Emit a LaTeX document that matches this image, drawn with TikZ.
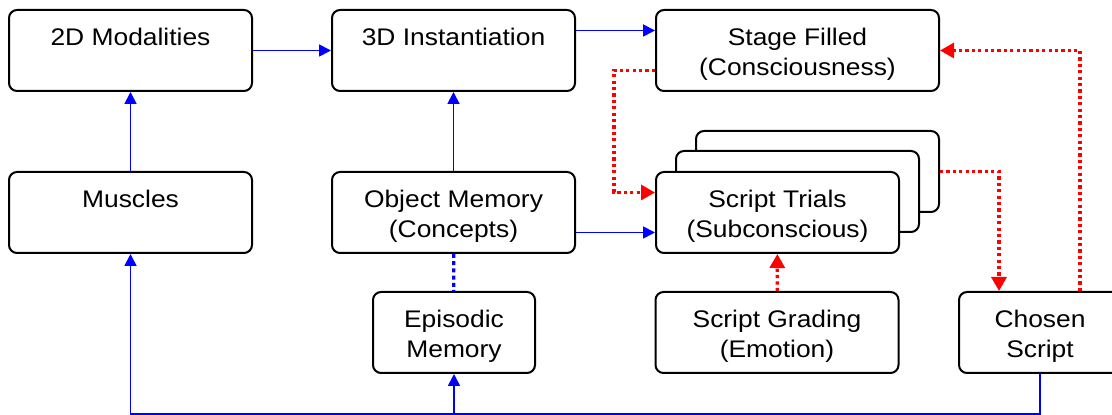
\documentclass[tikz,border=0pt]{standalone}
\usepackage{fontspec}
\setmainfont{Liberation Sans}[FakeStretch=1.1]
\usetikzlibrary{arrows.meta,positioning}

\begin{document}
\begin{tikzpicture}[x=0.5pt, y=-0.5pt,
  box/.style={draw, line width=1pt, rounded corners=4pt, fill=white, align=center,
    minimum width=121.5pt, minimum height=40.5pt, inner sep=2pt,
    text height=27.8pt, text depth=2.6pt, font=\fontsize{12}{15}\selectfont},
  narrow/.style={box, minimum width=81pt},
  wide/.style={box, minimum width=141.5pt},
  flow/.style={blue, line width=0.9pt, -{Triangle[length=6pt,width=6pt]}},
  hint/.style={red, line width=1.6pt, dash pattern=on 1.6pt off 1.6pt, -{Triangle[length=7pt,width=7.5pt]}},
  link/.style={blue, line width=1.6pt, dash pattern=on 2pt off 1.6pt}]

\useasboundingbox (0,0) rectangle (1112,415);
\clip (0,0) rectangle (1112,415);

\node [box] (mod2d) at (130.5,50.5) {2D Modalities\\\mbox{}};
\node [box] (inst3d) at (453.5,50.5) {3D Instantiation\\\mbox{}};
\node [wide] (stage) at (797.5,50.5) {Stage Filled\\(Consciousness)};
\node [box] (muscles) at (130.5,212.5) {Muscles\\\mbox{}};
\node [box] (objmem) at (453.5,212.5) {Object Memory\\(Concepts)};
% stack of trials
\node [box] (trial3) at (817.5,171.5) {};
\node [box] (trial2) at (797.5,191.5) {};
\node [box] (trials) at (777.5,212.5) {Script Trials\\(Subconscious)};
\node [narrow] (episodic) at (454,332.5) {Episodic\\Memory};
\node [box] (grading) at (777,332.5) {Script Grading\\(Emotion)};
\node [narrow] (chosen) at (1040,332.5) {Chosen\\Script};

\draw [flow] (mod2d) -- (inst3d);
\draw [flow] ([yshift=10pt]inst3d.east) -- ([yshift=10pt]stage.west);
\draw [flow] (muscles) -- (mod2d);
\draw [flow] (objmem) -- (inst3d);
\draw [flow] ([yshift=-10pt]objmem.east) -- ([yshift=-10pt]trials.west);
\draw [link] (objmem) -- (episodic);

% red loop
\draw [hint] ([yshift=-10pt]stage.west) -- ++(-20.5pt,0) |- ([yshift=10pt]trials.west);
\draw [hint] (grading) -- (trials);
\draw [hint] (trial3.east) -| ([xshift=-20.5pt]chosen.north);
\draw [hint] ([xshift=20pt]chosen.north) |- (stage.east);

% feedback along the bottom
\coordinate (bus) at ([yshift=-20pt]chosen.south);
\draw [flow] (chosen) -- (bus) -| (muscles);
\draw [flow] (episodic |- bus) -- (episodic);
\end{tikzpicture}
\end{document}
